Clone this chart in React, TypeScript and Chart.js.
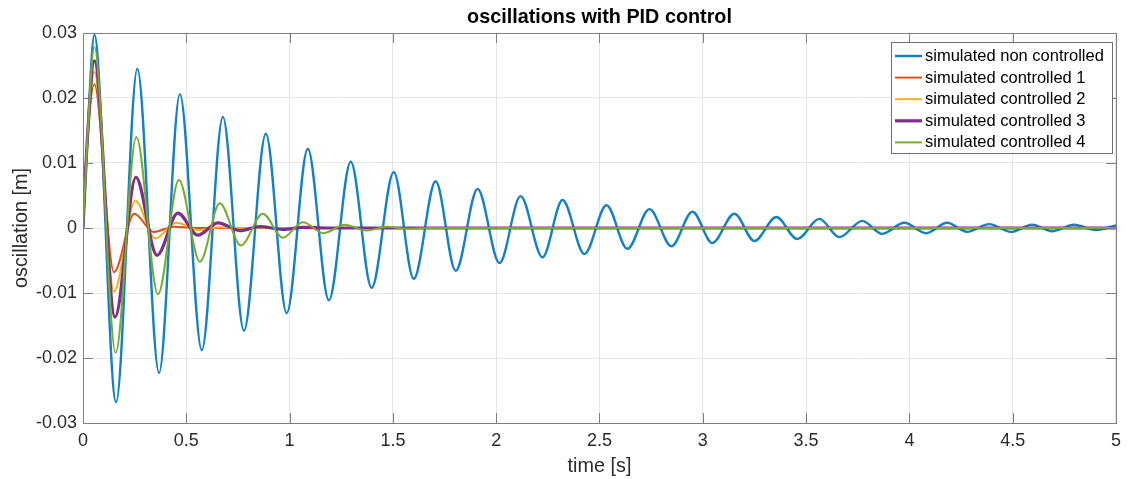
import React, { useEffect, useRef } from "react";
import { Chart, registerables } from "chart.js";

Chart.register(...registerables);

// ---------- text ----------
const TITLE = "oscillations with PID control";
const X_LABEL = "time [s]";
const Y_LABEL = "oscillation [m]";
const X_TICKS = [0, 0.5, 1, 1.5, 2, 2.5, 3, 3.5, 4, 4.5, 5];
const X_TICK_LABELS = ["0", "0.5", "1", "1.5", "2", "2.5", "3", "3.5", "4", "4.5", "5"];
const Y_TICKS = [-0.03, -0.02, -0.01, 0, 0.01, 0.02, 0.03];
const Y_TICK_LABELS = ["-0.03", "-0.02", "-0.01", "0", "0.01", "0.02", "0.03"];

const SERIES_NAMES = [
  "simulated non controlled",
  "simulated controlled 1",
  "simulated controlled 2",
  "simulated controlled 3",
  "simulated controlled 4",
];
const SERIES_COLORS = ["#1480C6", "#D95319", "#EDB120", "#7E2F8E", "#77AC30"];
const SERIES_WIDTHS = [2.4, 2, 2, 3.2, 2];

// ---------- data (time [s], oscillation [m]) ----------
const nonControlledTime = [
  0, 0.02, 0.055, 0.16, 0.263, 0.368, 0.469, 0.575, 0.677, 0.779,
  0.885, 0.986, 1.088, 1.19, 1.296, 1.397, 1.504, 1.601, 1.707, 1.804,
  1.91, 2.016, 2.118, 2.224, 2.321, 2.427, 2.534, 2.635, 2.742, 2.848,
  2.95, 3.046, 3.153, 3.25, 3.356, 3.457, 3.564, 3.661, 3.772, 3.868,
  3.975, 4.081, 4.183, 4.279, 4.386, 4.492, 4.594, 4.691, 4.797, 4.903, 5.0,
];
const nonControlledValue = [
  0, 0.013, 0.0297, -0.0268, 0.0245, -0.0223, 0.0206, -0.0188, 0.0171, -0.0158,
  0.0145, -0.0131, 0.0122, -0.0111, 0.0102, -0.0092, 0.0086, -0.0078, 0.0072, -0.0066,
  0.006, -0.0054, 0.0049, -0.0045, 0.0043, -0.004, 0.0035, -0.0032, 0.0029, -0.0028,
  0.0025, -0.0023, 0.0022, -0.002, 0.0017, -0.0017, 0.0014, -0.0014, 0.0011, -0.0009,
  0.0008, -0.0008, 0.0008, -0.0006, 0.0006, -0.0006, 0.0005, -0.0005, 0.0005, -0.0003, 0.0004,
];

const controlled1Time = [0, 0.02, 0.055, 0.15, 0.248, 0.343, 0.44, 0.54, 5];
const controlled1Value = [0, 0.013, 0.0221, -0.0068, 0.0022, -0.0006, 0.0002, 0, 0];

const controlled2Time = [0, 0.02, 0.055, 0.15, 0.253, 0.35, 0.452, 0.556, 0.662, 0.76, 5];
const controlled2Value = [0, 0.013, 0.024, -0.0098, 0.0042, -0.0016, 0.0008, -0.0003, 0.0001, 0, 0];

const controlled3Time = [0, 0.02, 0.055, 0.155, 0.256, 0.358, 0.459, 0.556, 0.653, 0.759, 0.856, 0.967, 1.07, 1.17, 5];
const controlled3Value = [0, 0.013, 0.0257, -0.0137, 0.0078, -0.0042, 0.0023, -0.0011, 0.0008, -0.0004, 0.0002, -0.0002, 0.0001, 0, 0];

const controlled4Time = [
  0, 0.02, 0.055, 0.158, 0.258, 0.363, 0.464, 0.566, 0.662, 0.764,
  0.87, 0.967, 1.064, 1.165, 1.267, 1.373, 1.47, 1.57, 1.68, 5,
];
const controlled4Value = [
  0, 0.013, 0.0278, -0.0192, 0.014, -0.0102, 0.0074, -0.0052, 0.0038, -0.0027,
  0.0022, -0.0015, 0.0009, -0.0008, 0.0005, -0.0004, 0.0002, -0.0001, 0, 0,
];

const SERIES_TIMES = [nonControlledTime, controlled1Time, controlled2Time, controlled3Time, controlled4Time];
const SERIES_VALUES = [nonControlledValue, controlled1Value, controlled2Value, controlled3Value, controlled4Value];

const FONT = "'Liberation Sans', Arial, Helvetica, sans-serif";
const TEXT_COLOR = "#2b2b2b";

const framePlugin = {
  id: "matlabFrame",
  afterDatasetsDraw(chart: any) {
    const { ctx, chartArea } = chart;
    const { left, right, top, bottom } = chartArea;
    const xs = chart.scales.x;
    const ys = chart.scales.y;
    const tick = 10;
    ctx.save();
    // box
    ctx.strokeStyle = "#808080";
    ctx.lineWidth = 1;
    ctx.strokeRect(Math.round(left) + 0.5, Math.round(top) + 0.5, Math.round(right - left), Math.round(bottom - top));
    ctx.beginPath();
    X_TICKS.forEach((v) => {
      const px = Math.round(xs.getPixelForValue(v)) + 0.5;
      ctx.moveTo(px, bottom);
      ctx.lineTo(px, bottom - tick);
      ctx.moveTo(px, top);
      ctx.lineTo(px, top + tick);
    });
    Y_TICKS.forEach((v) => {
      const py = Math.round(ys.getPixelForValue(v)) + 0.5;
      ctx.moveTo(left, py);
      ctx.lineTo(left + tick, py);
      ctx.moveTo(right, py);
      ctx.lineTo(right - tick, py);
    });
    ctx.stroke();

    // title
    ctx.fillStyle = "#000000";
    ctx.font = `bold 19.8px ${FONT}`;
    ctx.textAlign = "center";
    ctx.textBaseline = "middle";
    ctx.fillText(TITLE, (left + right) / 2, 18);

    // legend
    const lx = 891;
    const ly = 42;
    const lw = 221;
    const lh = 111;
    ctx.fillStyle = "#ffffff";
    ctx.fillRect(lx, ly, lw, lh);
    ctx.strokeStyle = "#6e6e6e";
    ctx.lineWidth = 1;
    ctx.strokeRect(lx + 0.5, ly + 0.5, lw, lh);
    ctx.font = `16.5px ${FONT}`;
    ctx.textAlign = "left";
    ctx.textBaseline = "middle";
    SERIES_NAMES.forEach((name, i) => {
      const cy = ly + 14 + i * 21.6;
      ctx.strokeStyle = SERIES_COLORS[i];
      ctx.lineWidth = SERIES_WIDTHS[i];
      ctx.beginPath();
      ctx.moveTo(lx + 4, cy);
      ctx.lineTo(lx + 31, cy);
      ctx.stroke();
      ctx.fillStyle = "#000000";
      ctx.fillText(name, lx + 34, cy + 0.5);
    });
    ctx.restore();
  },
};

export default function App() {
  const canvasRef = useRef<HTMLCanvasElement | null>(null);

  useEffect(() => {
    const canvas = canvasRef.current;
    if (!canvas) return;
    const datasets = SERIES_NAMES.map((name, i) => ({
      label: name,
      data: SERIES_TIMES[i].map((t, k) => ({ x: t, y: SERIES_VALUES[i][k] })),
      borderColor: SERIES_COLORS[i],
      backgroundColor: SERIES_COLORS[i],
      borderWidth: SERIES_WIDTHS[i],
      pointRadius: 0,
      fill: false,
      cubicInterpolationMode: "monotone" as const,
      order: SERIES_NAMES.length - 1 - i,
    }));

    const chart = new Chart(canvas, {
      type: "line",
      data: { datasets },
      plugins: [framePlugin],
      options: {
        animation: false,
        responsive: false,
        devicePixelRatio: 1,
        layout: { padding: { top: 33, right: 11, bottom: 0, left: 0 } },
        plugins: {
          legend: { display: false },
          title: { display: false },
          tooltip: { enabled: false },
        },
        scales: {
          x: {
            type: "linear",
            min: 0,
            max: 5,
            afterBuildTicks: (scale: any) => {
              scale.ticks = X_TICKS.map((v) => ({ value: v }));
            },
            afterFit: (scale: any) => {
              scale.height = 56;
            },
            ticks: {
              autoSkip: false,
              maxRotation: 0,
              padding: 7,
              color: TEXT_COLOR,
              font: { family: FONT, size: 18 },
              callback: (v: any) => {
                const idx = X_TICKS.findIndex((t) => Math.abs(t - Number(v)) < 1e-9);
                return idx >= 0 ? X_TICK_LABELS[idx] : "";
              },
            },
            grid: { color: "#e6e6e6", lineWidth: 1, drawTicks: false },
            border: { display: false },
            title: {
              display: true,
              text: X_LABEL,
              color: TEXT_COLOR,
              font: { family: FONT, size: 19.8 },
              padding: { top: 0, bottom: 1 },
            },
          },
          y: {
            type: "linear",
            min: -0.03,
            max: 0.03,
            afterBuildTicks: (scale: any) => {
              scale.ticks = Y_TICKS.map((v) => ({ value: v }));
            },
            afterFit: (scale: any) => {
              scale.width = 83;
            },
            ticks: {
              autoSkip: false,
              padding: 6,
              color: TEXT_COLOR,
              font: { family: FONT, size: 18 },
              callback: (v: any) => {
                const idx = Y_TICKS.findIndex((t) => Math.abs(t - Number(v)) < 1e-9);
                return idx >= 0 ? Y_TICK_LABELS[idx] : "";
              },
            },
            grid: { color: "#e6e6e6", lineWidth: 1, drawTicks: false },
            border: { display: false },
            title: {
              display: true,
              text: Y_LABEL,
              color: TEXT_COLOR,
              font: { family: FONT, size: 19.8 },
              padding: { top: 10, bottom: 0 },
            },
          },
        },
      },
    });
    return () => chart.destroy();
  }, []);

  return (
    <div style={{ position: "absolute", left: 0, top: 0, width: 1128, height: 479, background: "#ffffff" }}>
      <canvas ref={canvasRef} width={1128} height={479} style={{ display: "block", width: 1128, height: 479 }} />
    </div>
  );
}
